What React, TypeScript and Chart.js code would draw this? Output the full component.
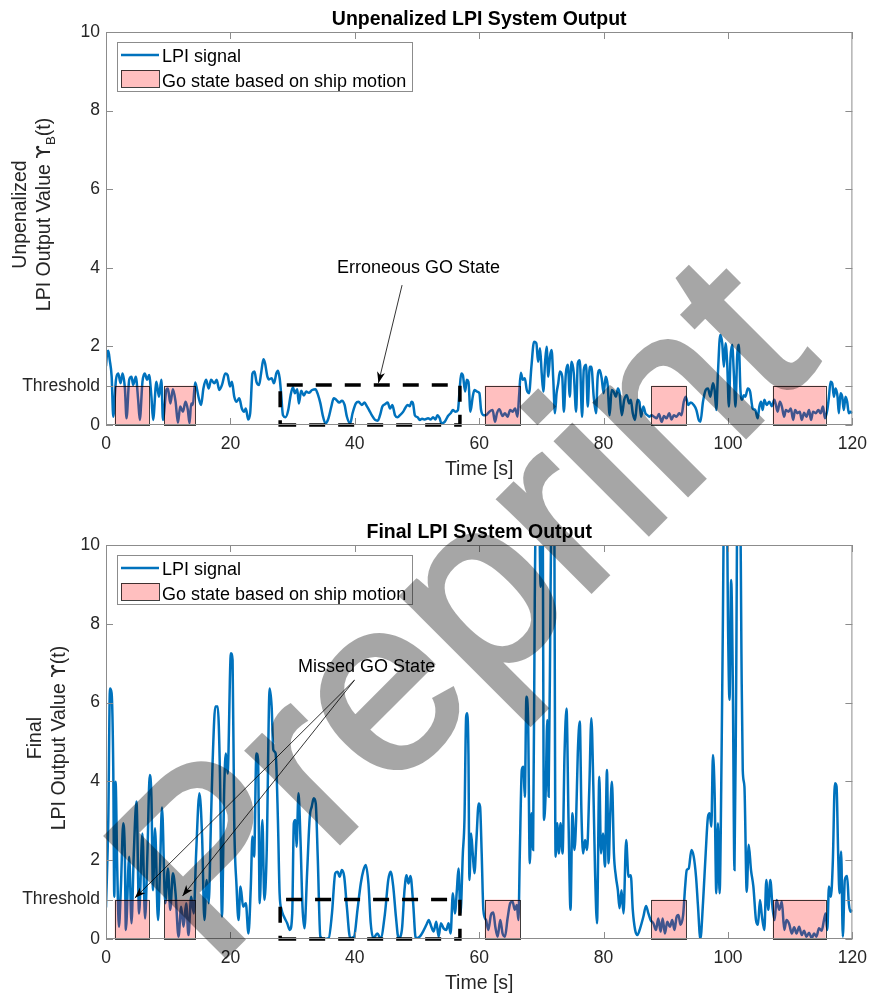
import React, { useEffect, useRef } from 'react';
import { Chart, registerables } from 'chart.js';

Chart.register(...registerables);

// ---------------- data ----------------
const xMin = 0;
const xMax = 120;
const xTickStep = 20;
const yMin = 0;
const yMax = 10;
const yTickValues = [0, 1, 2, 4, 6, 8, 10];
const thresholdValue = 1;
const thresholdLabel = 'Threshold';

const topTitle = 'Unpenalized LPI System Output';
const bottomTitle = 'Final LPI System Output';
const xAxisTitle = 'Time [s]';
const legendLabels = ['LPI signal', 'Go state based on ship motion'];
const watermarkText = 'Preprint';

const goStateStart = [1.4, 9.4, 60.9, 87.7, 107.2];
const goStateEnd = [6.9, 14.4, 66.6, 93.3, 115.7];

const windowStart = 28.0;
const windowEnd = 56.9;
const windowTopUnpenalized = 1.02;
const windowTopFinal = 1.0;

const erroneousText = 'Erroneous GO State';
const erroneousTextAt = { x: 50.25, y: 3.88 };
const erroneousArrowFrom = { x: 47.6, y: 3.56 };
const erroneousArrowTo = [{ x: 43.8, y: 1.07 }];

const missedText = 'Missed GO State';
const missedTextAt = { x: 41.9, y: 6.78 };
const missedArrowFrom = { x: 39.95, y: 6.57 };
const missedArrowTo = [{ x: 4.63, y: 1.04 }, { x: 12.3, y: 1.09 }];

const topTime = [
  0.0, 0.2, 0.37, 0.6, 0.91, 1.17, 1.6, 1.97, 2.34, 2.66, 3.04, 3.3, 3.73, 4.1, 4.37, 4.79, 5.17, 5.43, 5.86, 6.23,
  6.61, 6.93, 7.3, 7.57, 8.1, 8.52, 8.9, 9.16, 9.7, 9.96, 10.34, 10.76, 11.19, 11.56, 11.93, 12.36, 12.79, 13.16, 13.43, 13.69,
  13.96, 14.33, 14.6, 14.92, 15.29, 15.66, 16.09, 16.52, 16.89, 17.42, 17.79, 18.22, 18.65, 19.18, 19.55, 19.93, 20.24, 20.62, 20.99, 21.42,
  21.84, 22.22, 22.48, 22.86, 23.18, 23.55, 23.87, 24.19, 24.61, 24.93, 25.31, 25.57, 25.95, 26.21, 26.64, 27.01, 27.38, 27.65, 27.92, 28.13,
  28.45, 28.88, 29.3, 29.68, 30.05, 30.37, 30.74, 31.01, 31.38, 31.81, 32.18, 32.61, 33.14, 33.67, 34.1, 34.47, 34.84, 35.27, 35.7, 36.23,
  36.6, 36.97, 37.51, 37.93, 38.36, 38.73, 39.26, 39.64, 40.17, 40.6, 41.13, 41.56, 41.93, 42.3, 42.73, 43.26, 43.69, 44.06, 44.43, 44.86,
  45.29, 45.66, 46.03, 46.46, 46.88, 47.26, 47.79, 48.06, 48.48, 48.85, 49.12, 49.39, 49.65, 50.08, 50.45, 50.83, 51.25, 51.78, 52.21, 52.58,
  52.96, 53.28, 53.65, 53.92, 54.45, 54.98, 55.41, 55.78, 56.15, 56.58, 56.85, 57.11, 57.37, 57.74, 58.0, 58.27, 58.59, 58.96, 59.23, 59.66,
  60.03, 60.3, 60.72, 61.09, 61.63, 62.16, 62.53, 62.86, 63.23, 63.76, 64.13, 64.56, 64.98, 65.36, 65.78, 66.16, 66.42, 66.69, 67.01, 67.33,
  67.65, 68.02, 68.39, 68.82, 69.19, 69.46, 69.78, 70.05, 70.31, 70.58, 70.84, 71.11, 71.38, 71.64, 71.91, 72.18, 72.44, 72.71, 72.97, 73.35,
  73.61, 73.93, 74.25, 74.57, 74.84, 75.21, 75.58, 75.85, 76.17, 76.54, 76.81, 77.18, 77.45, 77.77, 78.03, 78.41, 78.78, 79.05, 79.37, 79.69,
  80.01, 80.33, 80.65, 80.97, 81.29, 81.61, 81.98, 82.3, 82.56, 82.93, 83.31, 83.73, 84.1, 84.37, 84.69, 85.06, 85.44, 85.76, 86.02, 86.4,
  86.72, 87.04, 87.36, 87.73, 88.1, 88.53, 88.9, 89.33, 89.7, 90.12, 90.55, 90.92, 91.29, 91.72, 92.15, 92.52, 92.89, 93.21, 93.59, 94.01,
  94.49, 94.92, 95.29, 95.56, 95.98, 96.41, 96.78, 97.16, 97.58, 97.85, 98.12, 98.38, 98.75, 99.07, 99.34, 99.6, 99.87, 100.14, 100.4, 100.67,
  100.94, 101.2, 101.47, 101.74, 102.0, 102.27, 102.54, 102.8, 103.18, 103.55, 103.97, 104.4, 104.77, 105.04, 105.31, 105.57, 105.84, 106.21, 106.64, 107.06,
  107.44, 107.7, 107.97, 108.34, 108.66, 109.03, 109.3, 109.73, 110.1, 110.47, 110.79, 111.17, 111.54, 111.86, 112.23, 112.61, 113.03, 113.35, 113.67, 114.1,
  114.53, 114.89, 115.27, 115.59, 115.96, 116.23, 116.49, 116.76, 117.02, 117.29, 117.61, 117.82, 118.09, 118.36, 118.62, 118.89, 119.16, 119.42, 119.69, 120.0,
];
const topValue = [
  1.5, 1.85, 1.89, 1.65, 1.23, 0.21, 1.15, 1.31, 1.06, 1.31, 0.93, 0.17, 1.15, 1.23, 1.02, 1.23, 0.64, 0.13, 1.1, 1.31,
  1.15, 1.27, 0.72, 0.13, 1.1, 0.72, 1.15, 0.13, 0.89, 0.93, 0.55, 0.91, 0.59, 0.06, 0.47, 0.34, 0.59, 0.38, 0.04, 0.55,
  0.51, 1.08, 0.93, 0.68, 0.51, 0.93, 1.15, 0.93, 1.15, 1.06, 1.15, 0.89, 1.02, 1.31, 1.27, 0.98, 1.1, 0.72, 0.59, 0.68,
  0.42, 0.34, 0.42, 0.14, 0.3, 1.31, 1.36, 1.1, 1.02, 1.31, 1.67, 1.57, 1.23, 1.16, 1.19, 1.06, 1.31, 1.38, 1.19, 0.85,
  0.25, 0.2, 0.38, 0.76, 0.96, 0.81, 0.91, 0.55, 0.87, 0.75, 0.85, 0.82, 0.89, 0.91, 0.76, 0.55, 0.25, 0.04, 0.14, 0.47,
  0.68, 0.65, 0.57, 0.62, 0.51, 0.21, 0.04, 0.3, 0.55, 0.59, 0.51, 0.57, 0.48, 0.38, 0.25, 0.13, 0.11, 0.25, 0.47, 0.53,
  0.57, 0.42, 0.51, 0.25, 0.2, 0.25, 0.34, 0.42, 0.51, 0.48, 0.59, 0.53, 0.25, 0.2, 0.13, 0.16, 0.14, 0.17, 0.14, 0.2,
  0.14, 0.25, 0.17, 0.04, 0.08, 0.23, 0.3, 0.38, 0.34, 0.38, 0.89, 1.31, 1.27, 0.85, 1.15, 1.1, 0.34, 0.72, 0.89, 0.85,
  0.81, 0.38, 0.25, 0.25, 0.34, 0.38, 0.08, 0.3, 0.4, 0.23, 0.3, 0.21, 0.38, 0.34, 0.42, 0.21, 0.76, 1.33, 1.15, 1.19,
  0.89, 0.81, 1.48, 2.12, 2.08, 1.61, 1.95, 1.31, 0.85, 1.57, 1.99, 1.23, 1.74, 1.91, 1.15, 0.3, 0.81, 1.06, 1.36, 1.23,
  0.34, 1.31, 1.53, 0.72, 1.61, 1.31, 0.34, 1.57, 1.65, 0.21, 1.4, 1.53, 0.47, 1.48, 1.48, 0.72, 0.3, 1.23, 1.4, 1.19,
  0.81, 1.23, 1.02, 0.25, 0.89, 0.85, 0.72, 0.93, 0.81, 0.25, 0.64, 0.76, 0.55, 0.64, 0.3, 0.13, 0.64, 0.59, 0.21, 0.47,
  0.3, 0.25, 0.21, 0.25, 0.21, 0.17, 0.28, 0.08, 0.23, 0.17, 0.3, 0.14, 0.25, 0.21, 0.3, 0.25, 0.59, 0.72, 0.51, 0.57,
  0.51, 0.38, 0.13, 0.08, 0.59, 0.89, 0.93, 0.72, 1.06, 0.89, 0.38, 1.31, 2.29, 2.08, 1.48, 2.08, 1.57, 0.47, 1.7, 2.04,
  1.31, 0.47, 1.74, 2.04, 0.89, 0.64, 0.76, 0.72, 0.93, 0.85, 0.42, 0.38, 0.17, 0.47, 0.59, 0.38, 0.64, 0.51, 0.59, 0.48,
  0.64, 0.51, 0.34, 0.59, 0.47, 0.21, 0.38, 0.34, 0.42, 0.13, 0.38, 0.3, 0.34, 0.13, 0.31, 0.21, 0.38, 0.13, 0.34, 0.3,
  0.38, 0.3, 0.47, 0.17, 0.38, 0.72, 1.1, 1.06, 0.72, 0.93, 0.72, 0.3, 0.81, 0.72, 0.38, 0.72, 0.59, 0.3, 0.34, 0.3,
];

const bottomTime = [
  0.0, 0.37, 0.64, 0.9, 1.17, 1.33, 1.54, 1.81, 2.08, 2.4, 2.77, 3.03, 3.19, 3.73, 4.1, 4.47, 4.9, 5.32, 5.86, 6.28,
  6.66, 7.03, 7.3, 7.56, 7.88, 8.36, 8.68, 9.0, 9.53, 9.96, 10.33, 10.76, 11.18, 11.66, 12.09, 12.46, 12.89, 13.26, 13.69, 14.11,
  14.49, 15.02, 15.45, 15.82, 16.19, 16.51, 16.88, 17.15, 17.58, 17.95, 18.32, 18.64, 19.01, 19.28, 19.55, 20.08, 20.35, 20.61, 20.99, 21.3,
  21.62, 22.05, 22.48, 22.9, 23.28, 23.54, 23.81, 24.18, 24.45, 24.71, 25.14, 25.46, 25.83, 26.31, 26.63, 26.9, 27.27, 27.64, 27.91, 28.23,
  28.6, 29.13, 29.56, 29.94, 30.2, 30.47, 30.63, 30.95, 31.27, 31.59, 31.91, 32.33, 32.76, 33.08, 33.4, 33.72, 34.04, 34.46, 35.0, 35.8,
  36.33, 36.86, 37.23, 37.55, 37.92, 38.3, 38.72, 39.26, 39.89, 40.43, 40.96, 41.39, 41.76, 42.19, 42.56, 42.98, 43.62, 44.16, 44.85, 45.38,
  45.76, 46.18, 46.61, 47.03, 47.57, 47.99, 48.31, 48.63, 48.95, 49.38, 49.8, 50.44, 50.97, 51.51, 51.88, 52.31, 52.68, 53.1, 53.48, 53.85,
  54.28, 54.7, 55.08, 55.4, 55.77, 56.09, 56.41, 56.67, 56.99, 57.37, 57.63, 57.9, 58.06, 58.27, 58.43, 58.7, 58.96, 59.23, 59.55, 59.92,
  60.14, 60.4, 60.67, 61.1, 61.47, 61.89, 62.27, 62.59, 62.96, 63.39, 63.76, 64.14, 64.56, 64.99, 65.36, 65.73, 66.05, 66.31, 66.53, 66.85,
  67.11, 67.33, 67.59, 67.86, 68.13, 68.4, 68.66, 68.93, 69.25, 69.56, 69.88, 70.15, 70.41, 70.68, 70.95, 71.16, 71.48, 71.74, 72.01, 72.28,
  72.54, 72.81, 73.08, 73.4, 73.72, 74.04, 74.36, 74.68, 74.99, 75.31, 75.58, 75.85, 76.17, 76.44, 76.7, 77.02, 77.34, 77.71, 78.03, 78.35,
  78.62, 78.94, 79.31, 79.58, 79.9, 80.22, 80.54, 80.8, 81.07, 81.34, 81.66, 81.98, 82.29, 82.56, 82.88, 83.2, 83.63, 84.0, 84.37, 84.69,
  85.07, 85.44, 85.87, 86.4, 86.82, 87.2, 87.57, 88.0, 88.42, 88.79, 89.17, 89.49, 89.86, 90.23, 90.66, 91.03, 91.4, 91.72, 92.04, 92.36,
  92.79, 93.11, 93.37, 93.69, 94.12, 94.49, 94.86, 95.18, 95.56, 95.98, 96.41, 96.78, 97.05, 97.32, 97.58, 97.85, 98.12, 98.38, 98.65, 98.97,
  99.18, 99.45, 99.71, 100.03, 100.24, 100.51, 100.77, 101.04, 101.31, 101.57, 101.89, 102.16, 102.37, 102.64, 103.01, 103.33, 103.7, 104.08, 104.5, 104.82,
  105.14, 105.46, 105.84, 106.16, 106.48, 106.8, 107.17, 107.49, 107.81, 108.24, 108.66, 109.04, 109.41, 109.84, 110.26, 110.64, 111.01, 111.44, 111.86, 112.23,
  112.61, 113.03, 113.46, 113.83, 114.21, 114.63, 115.06, 115.43, 115.69, 115.96, 116.23, 116.54, 116.86, 117.18, 117.45, 117.71, 117.93, 118.19, 118.46, 118.78,
  119.15, 119.42, 119.73, 120.0,
];
const bottomValue = [
  0.8, 3.02, 6.36, 6.24, 4.29, 1.07, 3.99, 1.75, 0.31, 1.33, 2.94, 2.17, 0.23, 2.09, 0.4, 2.17, 3.49, 0.65, 2.68, 0.52,
  2.17, 4.16, 3.61, 1.24, 2.81, 0.48, 1.75, 3.34, 0.91, 1.79, 0.74, 1.67, 1.16, 0.06, 0.82, 0.31, 0.91, 0.1, 1.07, 0.65,
  2.17, 3.7, 2.6, 0.48, 1.5, 0.91, 3.02, 4.54, 5.9, 5.9, 4.2, 0.57, 3.87, 4.71, 4.2, 7.25, 7.08, 3.02, 1.33, 0.48,
  1.33, 0.82, 0.91, 0.14, 1.33, 2.6, 2.09, 4.71, 4.54, 0.91, 3.02, 0.99, 2.17, 6.36, 5.9, 4.8, 4.71, 3.02, 1.16, 0.74,
  0.57, 0.4, 0.23, 0.65, 2.94, 3.02, 2.34, 3.7, 2.51, 0.82, 0.27, 1.67, 3.1, 3.36, 3.57, 3.44, 2.09, 0.06, 0.0, 0.02,
  0.65, 1.67, 1.71, 1.58, 1.75, 1.58, 0.82, 0.02, 0.06, 0.74, 1.41, 1.75, 1.88, 1.41, 0.4, 0.02, 0.14, 0.02, 0.65, 1.5,
  1.71, 1.33, 0.57, 0.02, 0.23, 1.24, 1.62, 1.41, 1.6, 0.91, 0.02, 0.06, 0.19, 0.36, 0.48, 0.31, 0.19, 0.44, 0.06, 0.4,
  0.27, 0.23, 0.4, 0.14, 1.16, 0.65, 1.24, 1.79, 0.65, 2.17, 3.02, 5.64, 5.73, 4.71, 1.5, 2.68, 2.17, 1.67, 2.51, 3.44,
  3.36, 2.17, 0.74, 0.48, 0.23, 0.61, 0.67, 0.31, 0.06, 0.48, 0.14, 0.06, 0.52, 0.91, 0.95, 0.74, 0.86, 0.48, 2.17, 4.29,
  4.37, 3.61, 6.15, 5.56, 1.92, 3.19, 2.26, 8.52, 12.5, 12.0, 8.94, 12.5, 3.02, 3.7, 5.56, 3.61, 8.94, 12.5, 12.5, 2.09,
  2.94, 2.17, 2.94, 2.17, 4.71, 5.85, 3.02, 0.74, 3.19, 2.26, 3.02, 4.71, 5.52, 3.19, 2.17, 2.51, 2.26, 3.87, 5.6, 3.87,
  1.75, 0.4, 4.12, 2.17, 2.68, 1.84, 4.29, 1.92, 3.19, 3.99, 2.17, 1.58, 1.24, 0.78, 1.24, 0.65, 2.51, 1.58, 1.62, 0.74,
  0.23, 0.1, 0.27, 0.57, 0.84, 0.65, 0.48, 0.4, 0.23, 0.52, 0.19, 0.52, 0.14, 0.44, 0.31, 0.48, 0.23, 0.55, 0.61, 0.36,
  0.61, 1.33, 1.75, 1.79, 2.26, 2.09, 1.58, 0.82, 0.0, 0.91, 2.17, 3.1, 3.19, 2.85, 4.67, 3.7, 1.16, 2.94, 1.16, 4.71,
  8.1, 12.5, 12.5, 7.67, 6.07, 9.11, 6.57, 1.75, 6.4, 12.5, 12.5, 7.25, 4.29, 3.87, 1.2, 2.39, 1.75, 1.33, 0.48, 0.36,
  0.99, 0.57, 0.23, 1.5, 0.74, 1.5, 0.78, 0.48, 0.99, 0.74, 0.95, 0.23, 0.48, 0.38, 0.14, 0.3, 0.14, 0.31, 0.1, 0.21,
  0.06, 0.16, 0.02, 0.14, 0.06, 0.27, 0.21, 0.48, 0.65, 0.23, 1.33, 1.07, 2.0, 3.95, 3.87, 2.17, 1.16, 2.22, 0.06, 1.5,
  1.6, 0.91, 0.69, 0.74,
];

// ---------------- styling ----------------
const FONT = '"Liberation Sans", Arial, Helvetica, "DejaVu Sans", sans-serif';
const SYMBOL_FONT = '"DejaVu Sans", "Liberation Sans", sans-serif';
const AXIS_COLOR = '#8c8c8c';
const TEXT_COLOR = '#262626';
const LINE_COLOR = '#0072BD';
const GO_FILL = 'rgba(255, 0, 0, 0.25)';
const GO_EDGE = 'rgba(0, 0, 0, 0.75)';
const TICK_FONT = 17.5;
const LABEL_FONT = 19.5;
const LEGEND_FONT = 18;
const NOTE_FONT = 18;
const CANVAS_W = 876;

type Pt = { x: number; y: number };

type PanelCfg = {
  time: number[];
  value: number[];
  padTop: number;
  xHeight: number;
  title: string;
  yLine1: string;
  yMain: string;
  ySymbol: string;
  ySub: string;
  yTail: string;
  yBase1: number;
  yBase2: number;
  yCenter: number;
  windowTop: number;
  note: string;
  noteAt: Pt;
  arrowFrom: Pt;
  arrowTo: Pt[];
};

function drawArrowHead(ctx: CanvasRenderingContext2D, from: Pt, to: Pt) {
  const ang = Math.atan2(to.y - from.y, to.x - from.x);
  const len = 11;
  const half = 4;
  const notch = 8;
  const c = Math.cos(ang);
  const s = Math.sin(ang);
  const pt = (a: number, b: number) => ({ x: to.x + a * c - b * s, y: to.y + a * s + b * c });
  const p1 = pt(-len, half);
  const p2 = pt(-notch, 0);
  const p3 = pt(-len, -half);
  ctx.beginPath();
  ctx.moveTo(to.x, to.y);
  ctx.lineTo(p1.x, p1.y);
  ctx.lineTo(p2.x, p2.y);
  ctx.lineTo(p3.x, p3.y);
  ctx.closePath();
  ctx.fill();
}

function makeOverlay(cfg: PanelCfg) {
  return {
    id: 'overlay',
    afterDatasetsDraw(chart: any) {
      const ctx: CanvasRenderingContext2D = chart.ctx;
      const xs = chart.scales.x;
      const ys = chart.scales.y;
      const px = (v: number) => xs.getPixelForValue(v);
      const py = (v: number) => ys.getPixelForValue(v);
      ctx.save();
      for (let i = 0; i < goStateStart.length; i++) {
        const x1 = px(goStateStart[i]);
        const x2 = px(goStateEnd[i]);
        const y1 = py(thresholdValue);
        const y0 = py(0);
        ctx.fillStyle = GO_FILL;
        ctx.fillRect(x1, y1, x2 - x1, y0 - y1);
        ctx.strokeStyle = GO_EDGE;
        ctx.lineWidth = 1;
        ctx.strokeRect(Math.round(x1) + 0.5, Math.round(y1) + 0.5, Math.round(x2 - x1), Math.round(y0 - y1));
      }
      ctx.strokeStyle = '#000';
      ctx.lineWidth = 3.5;
      ctx.setLineDash([16, 13]);
      const wx1 = px(windowStart);
      const wx2 = px(windowEnd);
      const wy1 = py(cfg.windowTop);
      const wy0 = py(0);
      ctx.beginPath();
      ctx.moveTo(wx1, wy0);
      ctx.lineTo(wx2, wy0);
      ctx.lineTo(wx2, wy1);
      ctx.lineTo(wx1, wy1);
      ctx.closePath();
      ctx.stroke();
      ctx.setLineDash([]);
      ctx.restore();
    },
    afterDraw(chart: any) {
      const ctx: CanvasRenderingContext2D = chart.ctx;
      const a = chart.chartArea;
      const xs = chart.scales.x;
      const ys = chart.scales.y;
      const px = (v: number) => xs.getPixelForValue(v);
      const py = (v: number) => ys.getPixelForValue(v);
      ctx.save();
      ctx.strokeStyle = AXIS_COLOR;
      ctx.lineWidth = 1;
      ctx.strokeRect(a.left + 0.5, a.top + 0.5, a.right - a.left - 1, a.bottom - a.top - 1);
      const tl = 7;
      ctx.beginPath();
      for (let v = xMin; v <= xMax; v += xTickStep) {
        const x = Math.round(px(v)) + 0.5;
        ctx.moveTo(x, a.bottom);
        ctx.lineTo(x, a.bottom - tl);
        ctx.moveTo(x, a.top);
        ctx.lineTo(x, a.top + tl);
      }
      for (const v of yTickValues) {
        const y = Math.round(py(v)) + 0.5;
        ctx.moveTo(a.left, y);
        ctx.lineTo(a.left + tl, y);
        ctx.moveTo(a.right, y);
        ctx.lineTo(a.right - tl, y);
      }
      ctx.stroke();

      ctx.fillStyle = '#000';
      ctx.font = `bold ${LABEL_FONT}px ${FONT}`;
      ctx.textAlign = 'center';
      ctx.textBaseline = 'alphabetic';
      const cx = (a.left + a.right) / 2;
      ctx.fillText(cfg.title, cx, a.top - 7);

      ctx.fillStyle = TEXT_COLOR;
      ctx.font = `${LABEL_FONT}px ${FONT}`;
      ctx.fillText(xAxisTitle, cx, a.bottom + 50);

      ctx.save();
      ctx.translate(cfg.yBase1, cfg.yCenter);
      ctx.rotate(-Math.PI / 2);
      ctx.textAlign = 'center';
      ctx.fillText(cfg.yLine1, 0, 0);
      ctx.restore();

      ctx.save();
      ctx.translate(cfg.yBase2, cfg.yCenter);
      ctx.rotate(-Math.PI / 2);
      ctx.textAlign = 'left';
      const mainFont = `${LABEL_FONT}px ${FONT}`;
      const symFont = `${LABEL_FONT}px ${SYMBOL_FONT}`;
      const subFont = `${LABEL_FONT * 0.68}px ${FONT}`;
      ctx.font = mainFont;
      const wMain = ctx.measureText(cfg.yMain).width;
      const wTail = ctx.measureText(cfg.yTail).width;
      ctx.font = symFont;
      const wSym = ctx.measureText(cfg.ySymbol).width;
      ctx.font = subFont;
      const wSub = cfg.ySub ? ctx.measureText(cfg.ySub).width : 0;
      const total = wMain + wSym + wSub + wTail;
      let sx = -total / 2;
      ctx.font = mainFont;
      ctx.fillText(cfg.yMain, sx, 0);
      sx += wMain;
      ctx.font = symFont;
      ctx.fillText(cfg.ySymbol, sx, 0);
      sx += wSym;
      if (cfg.ySub) {
        ctx.font = subFont;
        ctx.fillText(cfg.ySub, sx, 5);
        sx += wSub;
      }
      ctx.font = mainFont;
      ctx.fillText(cfg.yTail, sx, 0);
      ctx.restore();

      ctx.fillStyle = '#000';
      ctx.strokeStyle = '#000';
      ctx.font = `${NOTE_FONT}px ${FONT}`;
      ctx.textAlign = 'center';
      ctx.fillText(cfg.note, px(cfg.noteAt.x), py(cfg.noteAt.y));
      ctx.lineWidth = 0.8;
      const f = { x: px(cfg.arrowFrom.x), y: py(cfg.arrowFrom.y) };
      for (const t of cfg.arrowTo) {
        const h = { x: px(t.x), y: py(t.y) };
        ctx.beginPath();
        ctx.moveTo(f.x, f.y);
        ctx.lineTo(h.x, h.y);
        ctx.stroke();
        drawArrowHead(ctx, f, h);
      }

      const lx = a.left + 11;
      const ly = a.top + 10;
      const lw = 295;
      const lh = 49;
      ctx.fillStyle = '#fff';
      ctx.fillRect(lx, ly, lw, lh);
      ctx.strokeStyle = AXIS_COLOR;
      ctx.lineWidth = 1;
      ctx.strokeRect(lx + 0.5, ly + 0.5, lw, lh);
      ctx.strokeStyle = LINE_COLOR;
      ctx.lineWidth = 2.5;
      ctx.beginPath();
      ctx.moveTo(lx + 4, ly + 13);
      ctx.lineTo(lx + 42, ly + 13);
      ctx.stroke();
      ctx.fillStyle = GO_FILL;
      ctx.fillRect(lx + 4, ly + 28, 38, 17);
      ctx.strokeStyle = GO_EDGE;
      ctx.lineWidth = 1;
      ctx.strokeRect(lx + 4.5, ly + 28.5, 38, 17);
      ctx.fillStyle = '#000';
      ctx.font = `${LEGEND_FONT}px ${FONT}`;
      ctx.textAlign = 'left';
      ctx.fillText(legendLabels[0], lx + 45, ly + 20);
      ctx.fillText(legendLabels[1], lx + 45, ly + 44.5);
      ctx.restore();
    },
  };
}

function buildChart(canvas: HTMLCanvasElement, cfg: PanelCfg) {
  const points = cfg.time.map((t, i) => ({ x: t, y: cfg.value[i] }));
  return new Chart(canvas, {
    type: 'line',
    data: {
      datasets: [
        {
          label: legendLabels[0],
          data: points,
          borderColor: LINE_COLOR,
          borderWidth: 2.5,
          pointRadius: 0,
          fill: false,
          cubicInterpolationMode: 'monotone',
          clip: 0,
        } as any,
      ],
    },
    options: {
      responsive: false,
      animation: false,
      devicePixelRatio: 1,
      events: [],
      layout: { padding: { top: cfg.padTop, right: 19, left: 0, bottom: 0 } },
      plugins: {
        legend: { display: false },
        title: { display: false },
        tooltip: { enabled: false },
      },
      scales: {
        x: {
          type: 'linear',
          min: xMin,
          max: xMax,
          grid: { display: false, drawTicks: false },
          border: { display: false },
          ticks: {
            stepSize: xTickStep,
            autoSkip: false,
            maxRotation: 0,
            padding: 9,
            color: TEXT_COLOR,
            font: { family: FONT, size: TICK_FONT },
          },
          afterFit: (s: any) => {
            s.height = cfg.xHeight;
          },
        },
        y: {
          type: 'linear',
          min: yMin,
          max: yMax,
          grid: { display: false, drawTicks: false },
          border: { display: false },
          afterBuildTicks: (s: any) => {
            s.ticks = yTickValues.map((v) => ({ value: v }));
          },
          ticks: {
            autoSkip: false,
            padding: 6,
            color: TEXT_COLOR,
            font: { family: FONT, size: TICK_FONT },
            callback: (v: any) => (Number(v) === thresholdValue ? thresholdLabel : String(v)),
          },
          afterFit: (s: any) => {
            s.width = 106;
          },
        },
      } as any,
    },
    plugins: [makeOverlay(cfg)],
  } as any);
}

const topCfg: PanelCfg = {
  time: topTime,
  value: topValue,
  padTop: 32,
  xHeight: 75,
  title: topTitle,
  yLine1: 'Unpenalized',
  yMain: 'LPI Output Value ',
  ySymbol: '\u03D2',
  ySub: 'B',
  yTail: '(t)',
  yBase1: 25.5,
  yBase2: 50,
  yCenter: 214.5,
  windowTop: windowTopUnpenalized,
  note: erroneousText,
  noteAt: erroneousTextAt,
  arrowFrom: erroneousArrowFrom,
  arrowTo: erroneousArrowTo,
};

const bottomCfg: PanelCfg = {
  time: bottomTime,
  value: bottomValue,
  padTop: 45,
  xHeight: 60,
  title: bottomTitle,
  yLine1: 'Final',
  yMain: 'LPI Output Value ',
  ySymbol: '\u03D2',
  ySub: '',
  yTail: '(t)',
  yBase1: 41,
  yBase2: 65,
  yCenter: 238,
  windowTop: windowTopFinal,
  note: missedText,
  noteAt: missedTextAt,
  arrowFrom: missedArrowFrom,
  arrowTo: missedArrowTo,
};

export default function App() {
  const topRef = useRef<HTMLCanvasElement>(null);
  const botRef = useRef<HTMLCanvasElement>(null);

  useEffect(() => {
    const charts: Chart[] = [];
    if (topRef.current) charts.push(buildChart(topRef.current, topCfg));
    if (botRef.current) charts.push(buildChart(botRef.current, bottomCfg));
    return () => {
      charts.forEach((c) => c.destroy());
    };
  }, []);

  return (
    <div style={{ position: 'absolute', left: 0, top: 0, width: CANVAS_W, height: 999, background: '#fff', overflow: 'hidden' }}>
      <canvas ref={topRef} width={CANVAS_W} height={500} style={{ position: 'absolute', left: 0, top: 0, width: CANVAS_W, height: 500, display: 'block' }} />
      <canvas ref={botRef} width={CANVAS_W} height={499} style={{ position: 'absolute', left: 0, top: 500, width: CANVAS_W, height: 499, display: 'block' }} />
      <svg width={CANVAS_W} height={999} style={{ position: 'absolute', left: 0, top: 0, pointerEvents: 'none' }}>
        <g opacity={0.35}>
          <text
            x={212}
            y={970}
            transform="rotate(-45 212 970)"
            fontFamily={FONT}
            fontSize={246}
            fill="#000"
            stroke="#000"
            strokeWidth={5}
            strokeLinejoin="miter"
          >
            {watermarkText}
          </text>
        </g>
      </svg>
    </div>
  );
}
